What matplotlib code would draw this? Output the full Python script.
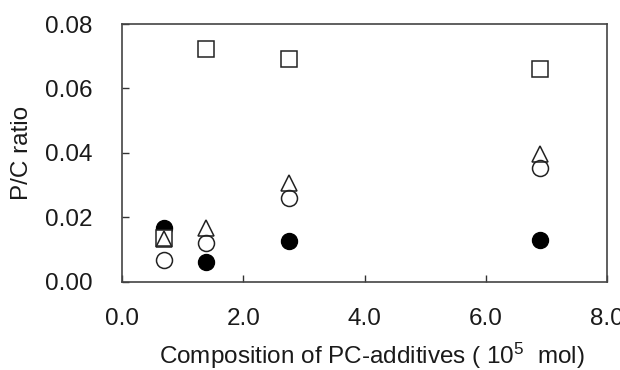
import matplotlib
matplotlib.use("Agg")
import matplotlib.pyplot as plt

plt.rcParams['font.family'] = ['Liberation Sans', 'DejaVu Sans']
plt.rcParams['mathtext.fontset'] = 'custom'
plt.rcParams['mathtext.rm'] = 'Liberation Sans'
plt.rcParams['mathtext.default'] = 'regular'

x = [0.69, 1.38, 2.75, 6.90]
filled_circle = [0.0166, 0.0062, 0.0127, 0.0129]
square = [0.0137, 0.0722, 0.0692, 0.0659]
open_circle = [0.0067, 0.0121, 0.0259, 0.0354]
triangle = [0.0133, 0.0166, 0.0307, 0.0396]

xticks = [0.0, 2.0, 4.0, 6.0, 8.0]
yticks = [0.00, 0.02, 0.04, 0.06, 0.08]

fig = plt.figure(figsize=(6.2, 3.7), dpi=100)
ax = fig.add_axes([0.1973, 0.2386, 0.7813, 0.6965])

ms = 11.5
ax.plot(x, filled_circle, 'o', ms=ms, mfc='black', mec='black', mew=1.0, zorder=3)
ax.plot(x, square, 's', ms=ms * 0.95, mfc='white', mec='#222222', mew=1.1, zorder=4)
ax.plot(x, open_circle, 'o', ms=ms, mfc='white', mec='#222222', mew=1.1, zorder=5)
ax.plot(x, triangle, '^', ms=ms, mfc='none', mec='#222222', mew=1.1, zorder=6)

ax.set_xlim(0, 8)
ax.set_ylim(0, 0.08)
ax.set_xticks(xticks)
ax.set_yticks(yticks)
ax.set_xticklabels([f"{v:.1f}" for v in xticks])
ax.set_yticklabels([f"{v:.2f}" for v in yticks])
ax.tick_params(direction='in', length=5, width=1, colors='#333333', labelcolor='#1a1a1a',
               labelsize=17.5)
ax.tick_params(axis='x', pad=19)
ax.tick_params(axis='y', pad=21.5)

for s in ax.spines.values():
    s.set_color('#444444')
    s.set_linewidth(1.2)

ax.set_xlabel("Composition of PC-additives ( 10$^{5}$  mol)", fontsize=17.5, color='#1a1a1a')
ax.xaxis.label.set_va('baseline')
ax.xaxis.set_label_coords(0.515, -0.318)
ax.set_ylabel("P/C ratio", fontsize=17.5, color='#1a1a1a')
ax.yaxis.label.set_va('center')
ax.yaxis.set_label_coords(-0.207, 0.5)

fig.savefig("out.png", dpi=100)
